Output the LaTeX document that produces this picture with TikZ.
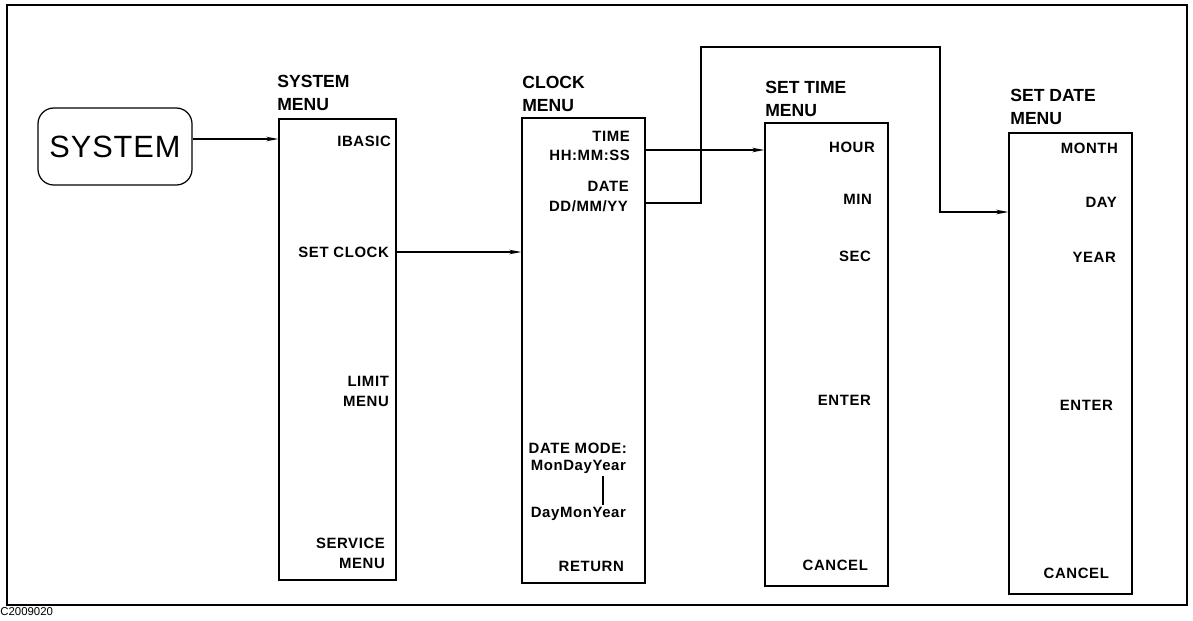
\documentclass[tikz,border=0pt]{standalone}
\usepackage{fontspec}
\setmainfont{Liberation Sans}
\newfontfamily\lblfont[LetterSpace=4]{Liberation Sans}
\newfontfamily\bigfont[LetterSpace=3]{Liberation Sans}
\usetikzlibrary{arrows.meta,fit}
\begin{document}
\begin{tikzpicture}[x=0.02cm,y=-0.02cm,
  menubox/.style={draw,line width=0.7pt,inner sep=0pt},
  title/.style={anchor=west,align=left,inner sep=0pt,font=\fontsize{10}{12.6}\selectfont\bfseries},
  item/.style={anchor=east,align=right,inner sep=1pt,font=\lblfont\fontsize{8.5}{11.3}\selectfont\bfseries},
  conn/.style={line width=0.7pt,-{Stealth[length=7pt,width=2.6pt]}},
  plain/.style={line width=0.7pt}]
\useasboundingbox (0,0) rectangle (1193,620);
% outer frame
\draw[line width=1.2pt] (7,5) rectangle (1187,605);
\node[anchor=west,inner sep=0pt,font=\fontsize{6.5}{7}\selectfont] (code) at (0,612) {C2009020};

% SYSTEM key
\node[draw,line width=0.7pt,rounded corners=9pt,inner sep=0pt,fit={(38,108) (192,185)}] (sysbtn) {};
\node[font=\bigfont\fontsize{17.5}{20}\selectfont] (systxt) at (sysbtn.center) {SYSTEM};

% SYSTEM MENU
\node[menubox,fit={(279,119) (396,580)}] (sm) {};
\node[title] (smt) at (277,93) {SYSTEM\\MENU};
\node[item] (ibasic) at (393,141) {IBASIC};
\node[item] (setclock) at (391,252) {SET CLOCK};
\node[item] (limit) at (391,391) {LIMIT\\MENU};
\node[item] (service) at (387,553) {SERVICE\\MENU};

% CLOCK MENU
\node[menubox,fit={(522,118) (645,583)}] (cm) {};
\node[title] (cmt) at (522,94) {CLOCK\\MENU};
\node[item] (time) at (632,136) {TIME};
\node[item] (hhmmss) at (632,155) {HH:MM:SS};
\node[item] (date) at (631,186) {DATE};
\node[item] (ddmmyy) at (630,206) {DD/MM/YY};
\node[item] (datemode) at (629,448) {DATE MODE:};
\node[item] (mdy) at (628,467) {MonDayYear};
\node[item] (dmy) at (628,514) {DayMonYear};
\node[item] (return) at (626,566) {RETURN};
\coordinate (modex) at (603,0);
\draw[plain] (mdy.south -| modex) -- (dmy.north -| modex);

% SET TIME MENU
\node[menubox,fit={(765,123) (888,586)}] (stm) {};
\node[title] (stmt) at (765,99) {SET TIME\\MENU};
\node[item] (hour) at (877,147) {HOUR};
\node[item] (min) at (874,199) {MIN};
\node[item] (sec) at (873,256) {SEC};
\node[item] (tenter) at (873,400) {ENTER};
\node[item] (tcancel) at (870,565) {CANCEL};

% SET DATE MENU
\node[menubox,fit={(1009,133) (1132,594)}] (sdm) {};
\node[title] (sdmt) at (1010,107) {SET DATE\\MENU};
\node[item] (month) at (1120,148) {MONTH};
\node[item] (day) at (1119,202) {DAY};
\node[item] (year) at (1118,257) {YEAR};
\node[item] (denter) at (1115,405) {ENTER};
\node[item] (dcancel) at (1111,573) {CANCEL};

% connectors
\draw[conn] (sysbtn.east |- 0,139) -- (sm.west |- 0,139);
\draw[conn] (sm.east |- setclock) -- (cm.west |- setclock);
\draw[conn] (cm.east |- 0,150) -- (stm.west |- 0,150);
\coordinate (r1) at (701,47);
\coordinate (r2) at (940,47);
\coordinate (r3) at (940,212);
\draw[conn] (cm.east |- 0,203) -- (r1 |- 0,203) -- (r1) -- (r2) -- (r3) -- (sdm.west |- r3);
\end{tikzpicture}
\end{document}
